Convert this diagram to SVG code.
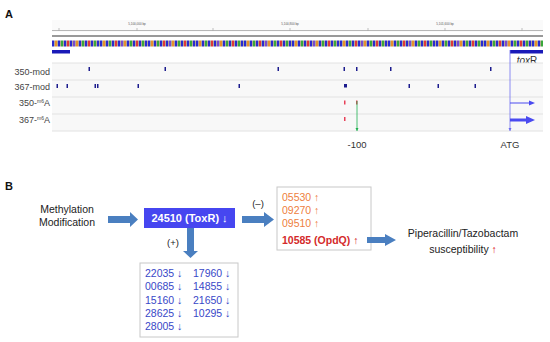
<svg xmlns="http://www.w3.org/2000/svg" width="550" height="342" viewBox="0 0 550 342">
<style>
.f{font-family:"Liberation Sans",Arial,sans-serif}
.hd{font-size:11px;font-weight:bold;fill:#111}
.lbl{font-size:9px;fill:#444}
.tk{font-size:3px;fill:#555}
.sep{stroke:#e2e2e2;stroke-width:1}
.mk{fill:#1c1c8e}
.rm{fill:#e84058}
.ba{fill:#4a7fc0}
.txt{font-size:10.5px;fill:#222}
.or{font-size:10.5px;fill:#ee8040}
.bl{font-size:10.5px;fill:#3848c8}
</style>
<defs>
<pattern id="seq" x="52" y="0" width="48" height="6" patternUnits="userSpaceOnUse">
<rect width="48" height="6" fill="#b0a898"/>
<rect x="0" width="2" height="6" fill="#2a2ad0"/>
<rect x="3" width="2" height="6" fill="#e8902c"/>
<rect x="6" width="2" height="6" fill="#2a2ad0"/>
<rect x="9" width="2" height="6" fill="#3aa83a"/>
<rect x="12" width="2" height="6" fill="#2a2ad0"/>
<rect x="15" width="2" height="6" fill="#e03838"/>
<rect x="18" width="2" height="6" fill="#2a2ad0"/>
<rect x="21" width="2" height="6" fill="#7a4ad0"/>
<rect x="24" width="2" height="6" fill="#e8902c"/>
<rect x="27" width="2" height="6" fill="#2a2ad0"/>
<rect x="30" width="2" height="6" fill="#3aa83a"/>
<rect x="33" width="2" height="6" fill="#2a2ad0"/>
<rect x="36" width="2" height="6" fill="#e03838"/>
<rect x="39" width="2" height="6" fill="#2a2ad0"/>
<rect x="42" width="2" height="6" fill="#3aa83a"/>
<rect x="45" width="2" height="6" fill="#2a2ad0"/>
</pattern>
<marker id="ab" viewBox="0 0 6 6" refX="3" refY="6" markerWidth="4" markerHeight="4"><path d="M0,0 L6,0 L3,6 Z" fill="#6a6af0"/></marker>
<marker id="ag" viewBox="0 0 6 6" refX="3" refY="6" markerWidth="4" markerHeight="4"><path d="M0,0 L6,0 L3,6 Z" fill="#20b050"/></marker>
</defs>
<rect width="550" height="342" fill="#fff"/>

<!-- Panel A -->
<text class="f hd" x="5" y="18">A</text>
<g id="ruler">
<rect x="52" y="20" width="491" height="12" fill="#fafafa"/>
<line x1="52" y1="30.5" x2="543" y2="30.5" stroke="#999" stroke-width="0.7"/>
<g stroke="#999" stroke-width="0.6">
<line x1="59" y1="28" x2="59" y2="30.5"/><line x1="137" y1="28" x2="137" y2="30.5"/><line x1="213" y1="28" x2="213" y2="30.5"/><line x1="290" y1="28" x2="290" y2="30.5"/><line x1="368" y1="28" x2="368" y2="30.5"/><line x1="445" y1="28" x2="445" y2="30.5"/><line x1="522" y1="28" x2="522" y2="30.5"/>
</g>
<text class="f tk" x="137" y="25" text-anchor="middle">5,100,000 bp</text>
<text class="f tk" x="290" y="25" text-anchor="middle">5,100,800 bp</text>
<text class="f tk" x="445" y="25" text-anchor="middle">5,101,600 bp</text>
<rect x="52" y="35" width="491" height="2" fill="#999"/>
</g>
<g id="sequence">
<rect x="52" y="40.5" width="491" height="6" fill="url(#seq)"/>
</g>
<g id="genes">
<rect x="52" y="50" width="18" height="3.5" fill="#1a1ab8"/>
<rect x="510" y="50" width="33" height="3.5" fill="#1a1ab8"/>
<text class="f" x="527" y="64" font-size="10" fill="#333" text-anchor="middle"><tspan font-style="italic">tox</tspan>R</text>
</g>
<g id="tracks">
<rect x="52" y="63" width="491" height="68" fill="#f8f8f8"/>
<line class="sep" x1="52" y1="63" x2="543" y2="63"/>
<line class="sep" x1="52" y1="80" x2="543" y2="80"/>
<line class="sep" x1="52" y1="97" x2="543" y2="97"/>
<line class="sep" x1="52" y1="114" x2="543" y2="114"/>
<line class="sep" x1="52" y1="131" x2="543" y2="131"/>
<text class="f lbl" x="50" y="74.5" text-anchor="end">350-mod</text>
<text class="f lbl" x="50" y="89.5" text-anchor="end">367-mod</text>
<text class="f lbl" x="50" y="106" text-anchor="end">350-<tspan font-size="5" dy="-3">m6</tspan><tspan dy="3">A</tspan></text>
<text class="f lbl" x="50" y="123" text-anchor="end">367-<tspan font-size="5" dy="-3">m6</tspan><tspan dy="3">A</tspan></text>
</g>
<g id="marks350mod" class="mk">
<rect x="88.5" y="67" width="1.5" height="4"/><rect x="164.5" y="67" width="1.5" height="4"/><rect x="277.5" y="67" width="1.5" height="4"/><rect x="343.5" y="67" width="1.5" height="4"/><rect x="356" y="67" width="1.5" height="4"/><rect x="390" y="67" width="1.5" height="4"/><rect x="490" y="67" width="1.5" height="4"/>
</g>
<g id="marks367mod" class="mk">
<rect x="56.5" y="84" width="1.5" height="4"/><rect x="66.5" y="84" width="1.5" height="4"/><rect x="94.5" y="84" width="1.5" height="4"/><rect x="97" y="84" width="1.5" height="4"/><rect x="137.5" y="84" width="1.5" height="4"/><rect x="238.5" y="84" width="1.5" height="4"/><rect x="344" y="84" width="3" height="3.5"/><rect x="408.5" y="84" width="1.5" height="4"/><rect x="437.5" y="84" width="1.5" height="4"/><rect x="474.5" y="84" width="1.5" height="4"/>
</g>
<g id="marksm6A" class="rm">
<rect x="344" y="100.5" width="1.5" height="4"/><rect x="356" y="100.5" width="1.5" height="4"/><rect x="344" y="117" width="1.5" height="4"/>
</g>
<g id="connectorsA">
<line x1="510" y1="50" x2="510" y2="131" stroke="#7070f0" stroke-width="0.8" marker-end="url(#ab)"/>
<line x1="357" y1="101" x2="357" y2="131" stroke="#20b050" stroke-width="0.8" marker-end="url(#ag)"/>
<line x1="510" y1="103" x2="530" y2="103" stroke="#4a4af0" stroke-width="1"/>
<polygon points="529,100.5 535,103 529,105.5" fill="#4a4af0"/>
<line x1="510" y1="120" x2="527" y2="120" stroke="#4a4af0" stroke-width="3"/>
<polygon points="526,116 535,120 526,124" fill="#4a4af0"/>
</g>
<text class="f" x="357" y="148" font-size="9.5" fill="#333" text-anchor="middle">-100</text>
<text class="f" x="510" y="148" font-size="9.5" fill="#333" text-anchor="middle">ATG</text>

<!-- Panel B -->
<text class="f hd" x="5" y="190">B</text>
<g id="methylation">
<text class="f txt" x="67" y="213" text-anchor="middle">Methylation</text>
<text class="f txt" x="67" y="226" text-anchor="middle">Modification</text>
</g>
<g id="toxR">
<rect x="144" y="208" width="91" height="20" fill="#4646f0"/>
<text class="f" x="189.5" y="222" font-size="11" font-weight="bold" fill="#fff" text-anchor="middle">24510 (ToxR) ↓</text>
</g>
<g id="upGenes">
<rect x="277" y="187" width="94" height="63" fill="#fff" stroke="#c8c8c8" stroke-width="1"/>
<text class="f or" x="282" y="201">05530 ↑</text>
<text class="f or" x="282" y="214">09270 ↑</text>
<text class="f or" x="282" y="227">09510 ↑</text>
<text class="f" x="282" y="244" font-size="10.5" font-weight="bold" fill="#d42a2a">10585 (OpdQ) <tspan font-weight="normal">↑</tspan></text>
</g>
<g id="downGenes">
<rect x="140" y="263" width="98" height="74" fill="#fff" stroke="#c8c8c8" stroke-width="1"/>
<text class="f bl" x="145" y="277">22035 ↓</text><text class="f bl" x="193" y="277">17960 ↓</text>
<text class="f bl" x="145" y="290">00685 ↓</text><text class="f bl" x="193" y="290">14855 ↓</text>
<text class="f bl" x="145" y="304">15160 ↓</text><text class="f bl" x="193" y="304">21650 ↓</text>
<text class="f bl" x="145" y="317">28625 ↓</text><text class="f bl" x="193" y="317">10295 ↓</text>
<text class="f bl" x="145" y="330">28005 ↓</text>
</g>
<g id="susceptibility">
<text class="f txt" x="463" y="237" text-anchor="middle">Piperacillin/Tazobactam</text>
<text class="f txt" x="463" y="253" text-anchor="middle">susceptibility <tspan fill="#e02020">↑</tspan></text>
</g>
<g id="connectorsB" class="ba">
<polygon points="108,216 130,216 130,212 138,219.5 130,227 130,223 108,223"/>
<polygon points="242,216 264,216 264,212 274,219.5 264,227 264,223 242,223"/>
<polygon points="367,237 385,237 385,234 396,240 385,246 385,243 367,243"/>
<polygon points="187,228 194,228 194,251 198,251 190.5,258 183,251 187,251"/>
</g>
<text class="f" x="258" y="207" font-size="9.5" fill="#222" text-anchor="middle">(–)</text>
<text class="f" x="173" y="246" font-size="9.5" fill="#222" text-anchor="middle">(+)</text>
</svg>
